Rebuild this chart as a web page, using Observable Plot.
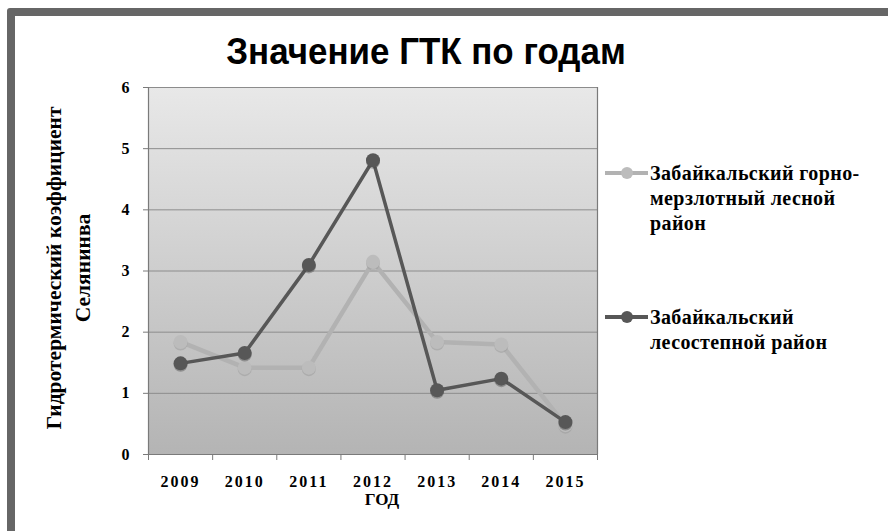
<!DOCTYPE html>
<html><head><meta charset="utf-8">
<script src="https://cdn.jsdelivr.net/npm/d3@7"></script>
<script src="https://cdn.jsdelivr.net/npm/@observablehq/plot@0.6"></script>
<style>
body{margin:0;background:#fff;}
#wrap{position:relative;width:888px;height:531px;overflow:hidden;background:#fff;}
#frame{position:absolute;left:7px;top:8px;width:900px;height:560px;border:8px solid #666;border-radius:3px;box-sizing:border-box;}
#title{position:absolute;top:31px;left:426px;white-space:nowrap;font-family:"Liberation Sans",Arial,sans-serif;font-weight:bold;font-size:36px;color:#000;transform:translateX(-50%) scaleX(0.97);transform-origin:center;}
#chart{position:absolute;left:0;top:0;}
#legend{position:absolute;left:600px;top:150px;}
</style>
</head><body>
<div id="wrap">
  <div id="frame"></div>
  <div id="title"></div>
  <div id="chart"></div>
  <svg id="legend" width="288" height="210"></svg>
</div>
<script>
const titleText = "Значение ГТК по годам";
const years = [2009, 2010, 2011, 2012, 2013, 2014, 2015];
const mountainForest = [1.84, 1.42, 1.42, 3.15, 1.84, 1.80, 0.48];
const forestSteppe = [1.49, 1.66, 3.10, 4.81, 1.05, 1.24, 0.53];
const yTicks = [0, 1, 2, 3, 4, 5, 6];
const seriesNames = ["Забайкальский горно-мерзлотный лесной район", "Забайкальский лесостепной район"];
const legendLines = [["Забайкальский горно-", "мерзлотный лесной", "район"], ["Забайкальский", "лесостепной район"]];
const xTitle = "ГОД";
const yTitle = "Гидротермический коэффициент\nСелянинва";

const colors = {light: "#b2b2b2", lightDot: "#bcbcbc", dark: "#575757"};
const serif = "'Liberation Serif','Times New Roman',serif";

const data = [
  ...years.map((year, i) => ({year, value: mountainForest[i], series: seriesNames[0]})),
  ...years.map((year, i) => ({year, value: forestSteppe[i], series: seriesNames[1]}))
];
const s1 = data.filter(d => d.series === seriesNames[0]);
const s2 = data.filter(d => d.series === seriesNames[1]);
const bounds = [...years.map(y => y - 0.5), years[years.length - 1] + 0.5];

document.getElementById("title").textContent = titleText;

const chart = Plot.plot({
  width: 888, height: 531,
  marginLeft: 148, marginRight: 291, marginTop: 87, marginBottom: 77,
  style: {background: "transparent", fontFamily: serif, color: "#000", overflow: "visible"},
  x: {domain: [bounds[0], bounds[bounds.length - 1]]},
  y: {domain: [0, 6]},
  marks: [
    Plot.frame({fill: "url(#bgGrad)", stroke: null}),
    Plot.gridY(yTicks.slice(1), {stroke: "#8c8c8c", strokeOpacity: 1, strokeWidth: 1}),
    Plot.ruleX([bounds[bounds.length - 1]], {stroke: "#7a7a7a", strokeWidth: 1.2}),
    Plot.ruleY([0], {stroke: "#7a7a7a", strokeWidth: 1.2}),
    Plot.ruleX([bounds[0]], {stroke: "#7a7a7a", strokeWidth: 1.2}),
    Plot.axisY(yTicks, {tickSize: 5, tickPadding: 14, fontSize: 16, fontWeight: "bold", stroke: "#7a7a7a", label: null, tickFormat: d => String(d)}),
    Plot.axisX(bounds, {tickSize: 6, tickFormat: () => "", stroke: "#7a7a7a", label: null}),
    Plot.axisX(years, {tickSize: 0, tickPadding: 21, fontSize: 16, fontWeight: "bold", label: null, tickFormat: d => String(d)}),
    Plot.line(s1, {x: "year", y: "value", stroke: colors.light, strokeWidth: 4.5}),
    Plot.dot(s1, {x: "year", y: "value", r: 7, dy: 1.5, fill: "#9a9a9a", fillOpacity: 0.5, stroke: null}),
    Plot.dot(s1, {x: "year", y: "value", r: 7, fill: colors.lightDot, stroke: null}),
    Plot.line(s2, {x: "year", y: "value", stroke: colors.dark, strokeWidth: 3.5}),
    Plot.dot(s2, {x: "year", y: "value", r: 7, dy: 1.5, fill: "#444", fillOpacity: 0.4, stroke: null}),
    Plot.dot(s2, {x: "year", y: "value", r: 7, fill: colors.dark, stroke: null}),
    Plot.text([yTitle], {frameAnchor: "left", textAnchor: "middle", dx: -82, dy: -3, rotate: -90, fontSize: 21.5, fontWeight: "bold", lineHeight: 1.35}),
    Plot.text([xTitle], {frameAnchor: "bottom", dx: 9, dy: 50, fontSize: 17, fontWeight: "bold"})
  ]
});

chart.insertAdjacentHTML("afterbegin",
  '<defs><linearGradient id="bgGrad" x1="0" y1="0" x2="0" y2="1">' +
  '<stop offset="0" stop-color="#e8e8e8"/><stop offset="1" stop-color="#b4b4b4"/></linearGradient></defs>');
d3.select(chart).selectAll("g[aria-label='x-axis tick label'] text").style("letter-spacing", "2px");
document.getElementById("chart").appendChild(chart);

// legend (SVG, offsets relative to #legend at left 600, top 150)
const lg = d3.select("#legend");
const itemTops = [23, 167];
const lcols = [colors.light, colors.dark];
const mcols = [colors.lightDot, colors.dark];
legendLines.forEach((lines, i) => {
  const g = lg.append("g").attr("transform", `translate(0,${itemTops[i]})`);
  g.append("line").attr("x1", 5).attr("x2", 48).attr("y1", 0).attr("y2", 0)
    .attr("stroke", lcols[i]).attr("stroke-width", 4);
  g.append("circle").attr("cx", 27).attr("cy", 0).attr("r", 6).attr("fill", mcols[i]);
  const t = g.append("text").attr("x", 50).attr("y", 0)
    .attr("font-family", serif).attr("font-weight", "bold").attr("font-size", 20)
    .attr("letter-spacing", "0.4px").attr("fill", "#000");
  lines.forEach((ln, j) => t.append("tspan").attr("x", 50).attr("y", j * 25).attr("dy", "0.35em").text(ln));
});
</script>
</body></html>
